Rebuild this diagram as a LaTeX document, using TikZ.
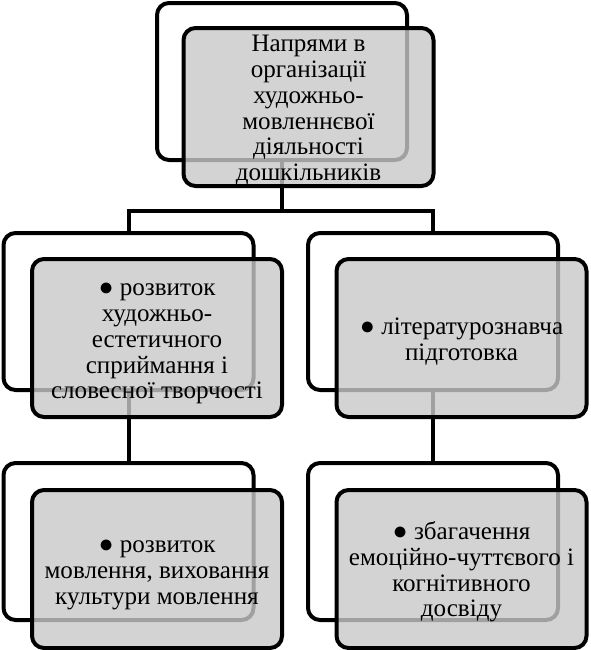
\documentclass[tikz,border=0pt]{standalone}
\usepackage{fontspec}
\setmainfont{Liberation Serif}
\newcommand{\lowtext}[1]{\raisebox{-3pt}[\height][\depth]{\begin{tabular}{@{}c@{}}#1\end{tabular}}}
\begin{document}
\begin{tikzpicture}[x=0.75pt,y=-0.75pt,
  backbox/.style={draw=black,line width=3pt,rounded corners=9pt,fill=white,
    minimum width=187.5pt,minimum height=117.75pt,inner sep=0pt},
  frontbox/.style={draw=black,line width=3pt,rounded corners=9pt,fill={rgb,255:red,200;green,200;blue,200},
    fill opacity=0.8,text opacity=1,draw opacity=1,
    minimum width=187.5pt,minimum height=118.5pt,inner sep=1pt,
    font=\fontsize{18.8}{19.4}\selectfont},
  link/.style={draw=black,line width=3pt}]
\useasboundingbox (0,0) rectangle (591,650);
% back boxes
\node[backbox] (tb) at (282,81.5) {};
\node[backbox] (lmb) at (128.5,311.5) {};
\node[backbox] (rmb) at (433,311.5) {};
\node[backbox] (lbb) at (128.5,541.5) {};
\node[backbox] (rbb) at (433,541.5) {};
% connectors
\coordinate (hj) at (282,211);
\draw[link] (tb.south) -- (hj);
\draw[link] (hj) -| (lmb.north);
\draw[link] (hj) -| (rmb.north);
\draw[link] (lmb.south) -- (lbb.north);
\draw[link] (rmb.south) -- (rbb.north);
% front boxes
\node[frontbox] (tf) at (308.5,107) {\lowtext{Напрями в\\організації\\художньо-\\мовленнєвої\\діяльності\\дошкільників}};
\node[frontbox] (lmf) at (157,338) {\lowtext{● розвиток\\художньо-\\естетичного\\сприймання і\\словесної творчості}};
\node[frontbox] (rmf) at (461.5,338) {\lowtext{● літературознавча\\підготовка}};
\node[frontbox] (lbf) at (157,569) {\lowtext{● розвиток\\мовлення, виховання\\культури мовлення}};
\node[frontbox] (rbf) at (461.5,569) {\lowtext{● збагачення\\емоційно-чуттєвого і\\когнітивного\\досвіду}};
\end{tikzpicture}
\end{document}
